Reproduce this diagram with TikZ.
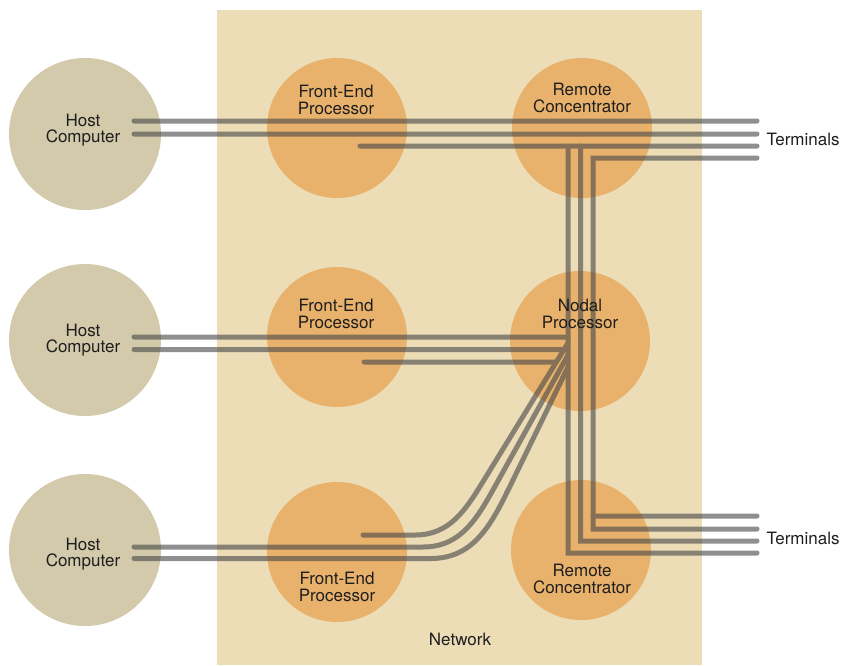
\documentclass[tikz,border=0pt]{standalone}
\usepackage{fontspec}
\setmainfont{TeX Gyre Heros}
\usepackage{tikz}
\usetikzlibrary{calc}
\definecolor{net}{HTML}{ECDDB6}
\definecolor{hostfill}{HTML}{D2CAAB}
\definecolor{procfill}{HTML}{E8B26C}
\definecolor{wire}{HTML}{4A4A4A}
\definecolor{ink}{HTML}{1E1E1E}
\tikzset{
  hostdisc/.style={circle, fill=hostfill, minimum size=152pt, inner sep=0pt},
  procdisc/.style={circle, fill=procfill, minimum size=140pt, inner sep=0pt},
  cable/.style={draw=wire, line width=5pt, line cap=round, line join=miter},
  lab/.style={text=ink, font=\fontsize{17}{16.5}\selectfont, align=center, inner sep=0pt},
}

\begin{document}
\begin{tikzpicture}[x=1pt,y=-1pt]
  \useasboundingbox (0,0) rectangle (845,665);
  \fill[net] (217,10) rectangle (702,665);
  % discs
  \foreach \N/\X/\Y in {host1/85/134, host2/85/340, host3/85/550}
    \node[hostdisc] (\N) at (\X,\Y) {};
  \foreach \N/\X/\Y in {fep1/337/128, fep2/337/337, fep3/337/552,
                        rc1/582/128, np/580/341, rc2/581/550}
    \node[procdisc] (\N) at (\X,\Y) {};
  % lines
  \begin{scope}[transparency group, opacity=0.62]
    \foreach \i/\xs/\y in {1/134/121, 2/134/134, 3/360/146} {
      \coordinate (tl\i) at (\xs,\y);
      \coordinate (tr\i) at (757,\y);
      \draw[cable] (tl\i) -- (tr\i);
    }
    \foreach \i/\xs/\xe/\y in {1/134/568/337, 2/134/564/349.5, 3/364/556/362} {
      \coordinate (ml\i) at (\xs,\y);
      \coordinate (mr\i) at (\xe,\y);
      \draw[cable] (ml\i) -- (mr\i);
    }
    \coordinate (v3a) at (757,158); \coordinate (v3b) at (593,158);
    \coordinate (v3c) at (593,529); \coordinate (v3d) at (757,529);
    \draw[cable] (v3a) -- (v3b) -- (v3c) -- (v3d);
    \coordinate (v2a) at (580.5,146); \coordinate (v2b) at (580.5,541);
    \coordinate (v2c) at (757,541);
    \draw[cable] (v2a) -- (v2b) -- (v2c);
    \coordinate (v1a) at (568,146); \coordinate (v1b) at (568,553);
    \coordinate (v1c) at (757,553);
    \draw[cable] (v1a) -- (v1b) -- (v1c);
    \coordinate (br1) at (593,516); \coordinate (br2) at (757,516);
    \draw[cable] (br1) -- (br2);
    \foreach \i/\xs/\y/\c in {0/363/535/35pt, 1/134/547/40pt, 2/134/558.5/45pt} {
      \coordinate (s\i) at (\xs,\y);
      \coordinate (a\i) at ({415+8*\i},\y);
      \coordinate (d\i) at ({484+14.5*\i},480);
      \coordinate (e\i) at (568,{343+12*\i});
      \draw[cable] (s\i) -- (a\i) .. controls ($(a\i)+(\c,0)$) and ($(d\i)!-\c!(e\i)$) .. (d\i) -- (e\i);
    }
  \end{scope}
  % labels
  \foreach \N/\X/\Y/\T in {host1/83/130/{Host\\Computer}, host2/83/340/{Host\\Computer},
      host3/83/554/{Host\\Computer}, fep1/336/100/{Front-End\\Processor},
      fep2/336/314/{Front-End\\Processor}, fep3/337/587/{Front-End\\Processor},
      rc1/582/98/{Remote\\Concentrator}, np/580/314/{Nodal\\Processor},
      rc2/582/579/{Remote\\Concentrator}}
    \node[lab] (\N-lab) at (\X,\Y) {\T};
  \node[lab] (term1) at (803,139) {Terminals};
  \node[lab] (term2) at (803,538) {Terminals};
  \node[lab] (netlab) at (460,639) {Network};
\end{tikzpicture}
\end{document}
